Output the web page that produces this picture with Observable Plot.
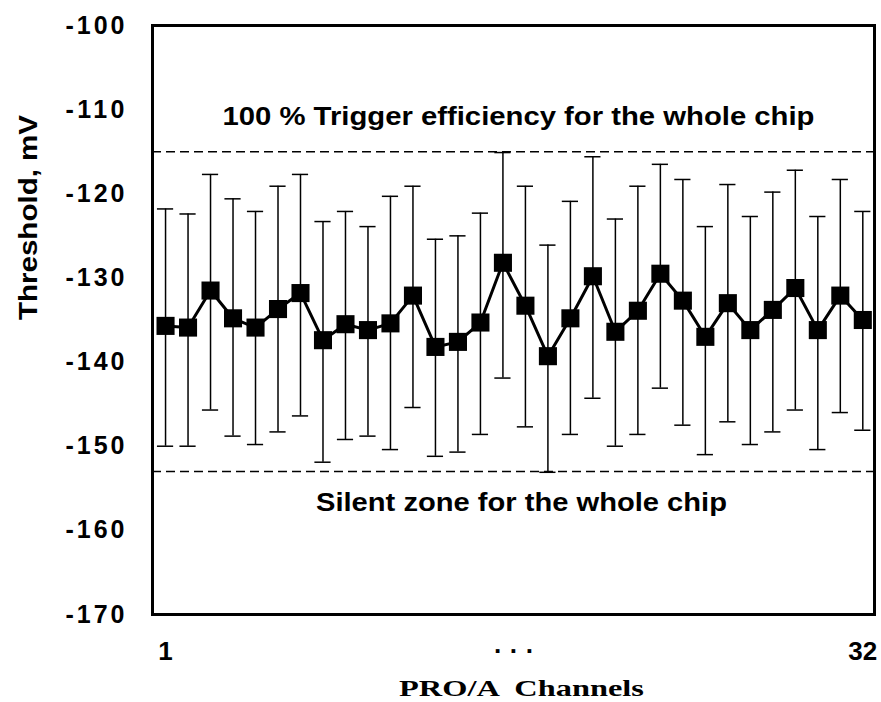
<!DOCTYPE html>
<html>
<head>
<meta charset="utf-8">
<script src="https://cdn.jsdelivr.net/npm/d3@7"></script>
<script src="https://cdn.jsdelivr.net/npm/@observablehq/plot@0.6"></script>
<style>
  html, body { margin: 0; padding: 0; background: white; }
  #chart svg { display: block; }
</style>
</head>
<body>
<div id="chart"></div>
<script>
// ---- data ----
const channels = [1,2,3,4,5,6,7,8,9,10,11,12,13,14,15,16,17,18,19,20,21,22,23,24,25,26,27,28,29,30,31,32];
const meanThreshold = [-135.7,-135.9,-131.5,-134.8,-135.9,-133.7,-131.8,-137.4,-135.5,-136.2,-135.4,-132.1,-138.2,-137.6,-135.3,-128.2,-133.3,-139.3,-134.8,-129.8,-136.4,-133.9,-129.5,-132.7,-137.0,-133.0,-136.2,-133.8,-131.2,-136.2,-132.1,-135.0];
const upperThreshold = [-121.8,-122.4,-117.7,-120.6,-122.1,-119.1,-117.7,-123.3,-122.1,-123.9,-120.3,-119.1,-125.4,-125.0,-122.3,-115.1,-119.1,-126.1,-120.9,-115.6,-123.0,-119.1,-116.5,-118.3,-123.9,-118.9,-122.7,-119.8,-117.2,-122.7,-118.3,-122.1];
const lowerThreshold = [-150.0,-150.0,-145.7,-148.8,-149.8,-148.3,-146.4,-151.9,-149.2,-148.8,-150.4,-145.4,-151.2,-150.7,-148.6,-141.9,-147.7,-153.1,-148.6,-144.3,-150.0,-148.6,-143.1,-147.5,-151.0,-147.1,-149.8,-148.3,-145.7,-150.4,-146.0,-148.1];
const limitLevels = [-115, -153];
const yTicks = [-100,-110,-120,-130,-140,-150,-160,-170];
const xTicks = [1, 16.5, 32];
const xTickLabels = ["1", "\u00b7 \u00b7 \u00b7", "32"];
const topNote = "100 % Trigger efficiency for the whole chip";
const bottomNote = "Silent zone for the whole chip";
const yTitle = "Threshold, mV";
const xTitle = "PRO/A  Channels";

const data = channels.map((ch, i) => ({ch, mean: meanThreshold[i], hi: upperThreshold[i], lo: lowerThreshold[i]}));
const capHalf = 0.36;

const sans = "'Liberation Sans', Arial, sans-serif";
const serif = "'Liberation Serif', 'Times New Roman', serif";

const chart = Plot.plot({
  width: 881,
  height: 702,
  marginLeft: 152,
  marginRight: 7,
  marginTop: 25,
  marginBottom: 88,
  style: {background: "white", color: "black", fontFamily: sans},
  x: {domain: [0.42, 32.52]},
  y: {domain: [-170, -100]},
  marks: [
    Plot.ruleY(limitLevels, {y: d => d, stroke: "black", strokeWidth: 1.5, strokeDasharray: "9,5"}),
    Plot.ruleX(data, {x: "ch", y1: "lo", y2: "hi", stroke: "black", strokeWidth: 1.5}),
    Plot.ruleY(data, {y: "hi", x1: d => d.ch - capHalf, x2: d => d.ch + capHalf, stroke: "black", strokeWidth: 1.5}),
    Plot.ruleY(data, {y: "lo", x1: d => d.ch - capHalf, x2: d => d.ch + capHalf, stroke: "black", strokeWidth: 1.5}),
    Plot.line(data, {x: "ch", y: "mean", stroke: "black", strokeWidth: 3}),
    Plot.dot(data, {x: "ch", y: "mean", symbol: "square", r: 10.2, fill: "black", stroke: null}),
    Plot.frame({stroke: "black", strokeWidth: 3}),
    Plot.axisY({ticks: yTicks, tickFormat: d => String(d), tickSize: 0, tickPadding: 28, fontSize: 25, fontWeight: "bold", label: null, className: "ytick"}),
    Plot.axisX({ticks: xTicks, tickFormat: d => xTickLabels[xTicks.indexOf(d)], tickSize: 0, tickPadding: 27, fontSize: 26, fontWeight: "bold", label: null}),
    Plot.text([topNote], {text: d => d, frameAnchor: "top", lineAnchor: "middle", dx: 5, dy: 91, fontSize: 26, fontWeight: "bold", fontFamily: sans, className: "note-top"}),
    Plot.text([bottomNote], {text: d => d, frameAnchor: "bottom", lineAnchor: "middle", dx: 8, dy: -112, fontSize: 26, fontWeight: "bold", fontFamily: sans, className: "note-bottom"}),
    Plot.text([yTitle], {text: d => d, frameAnchor: "left", lineAnchor: "middle", dx: -124, rotate: -90, fontSize: 25, fontWeight: "bold", fontFamily: sans, className: "ytitle"}),
    Plot.text([xTitle], {text: d => d, frameAnchor: "bottom", lineAnchor: "middle", dx: 8, dy: 74, fontSize: 23, fontWeight: "bold", fontFamily: serif, className: "xtitle"})
  ]
});

// condense texts to the reference widths
const fit = (cls, len, adjust) => {
  d3.select(chart).selectAll("." + cls + " text")
    .attr("textLength", len)
    .attr("lengthAdjust", adjust);
};
fit("note-top", 592, "spacingAndGlyphs");
fit("note-bottom", 411, "spacingAndGlyphs");
fit("ytitle", 205, "spacingAndGlyphs");
fit("xtitle", 245, "spacingAndGlyphs");
fit("ytick", 59, "spacing");

document.getElementById("chart").appendChild(chart);
</script>
</body>
</html>
